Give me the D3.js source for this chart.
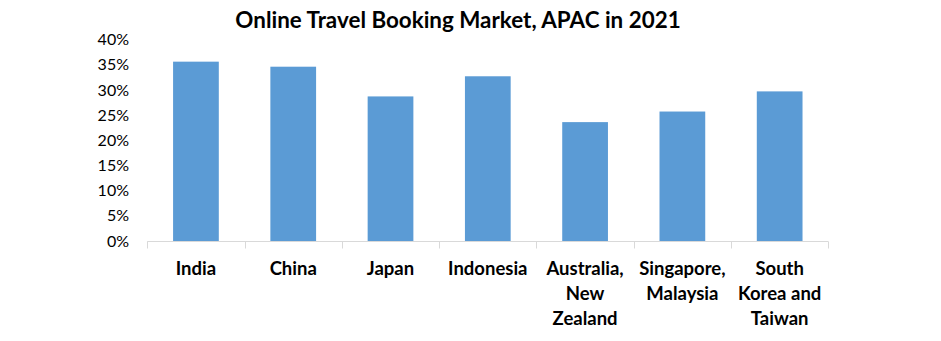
<!DOCTYPE html>
<html><head><meta charset="utf-8">
<script src="https://cdn.jsdelivr.net/npm/d3@7"></script>
<style>body{margin:0;background:#fff}svg{display:block}</style>
</head><body>
<script>
const title = "Online Travel Booking Market, APAC in 2021";
const categories = ["India", "China", "Japan", "Indonesia", "Australia, New Zealand", "Singapore, Malaysia", "South Korea and Taiwan"];
const categoryLines = [["India"], ["China"], ["Japan"], ["Indonesia"], ["Australia,", "New", "Zealand"], ["Singapore,", "Malaysia"], ["South", "Korea and", "Taiwan"]];
const shares = [35.6, 34.6, 28.7, 32.7, 23.6, 25.7, 29.7];
const yTicks = [0, 5, 10, 15, 20, 25, 30, 35, 40];

const W = 941, H = 341;
const svg = d3.select("body").append("svg").attr("width", W).attr("height", H);
const x = d3.scaleBand().domain(categories).range([147.3, 828.3]).paddingInner(0.53).paddingOuter(0.265);
const y = d3.scaleLinear().domain([0, 40]).range([241, 39.5]);

svg.append("text").attr("x", 458).attr("y", 28).attr("text-anchor", "middle")
  .attr("font-family", "Lato, sans-serif").attr("font-weight", "bold").attr("font-size", 22.4)
  .attr("fill", "#000").text(title);

// y axis labels
const ya = svg.append("g").attr("transform", "translate(129,0)")
  .call(d3.axisLeft(y).tickValues(yTicks).tickSize(0).tickPadding(0).tickFormat(d => d + "%"));
ya.select(".domain").remove();
ya.selectAll("text").attr("font-family", "Lato, sans-serif").attr("font-size", 16).attr("fill", "#000");

// bars
svg.append("g").selectAll("rect").data(shares).join("rect")
  .attr("x", (d, i) => x(categories[i])).attr("width", x.bandwidth())
  .attr("y", d => y(d)).attr("height", d => y(0) - y(d))
  .attr("fill", "#5b9bd5");

// x axis
const xa = svg.append("g").attr("transform", `translate(0,${y(0) + 0.5})`);
xa.append("line").attr("x1", 147.3).attr("x2", 828.3).attr("stroke", "#d9d9d9").attr("stroke-width", 1);
const bounds = d3.range(categories.length + 1).map(i => 147.3 + i * (828.3 - 147.3) / categories.length);
xa.selectAll("line.tk").data(bounds).join("line").attr("class", "tk")
  .attr("x1", d => Math.round(d) + 0.5).attr("x2", d => Math.round(d) + 0.5).attr("y1", 0).attr("y2", 7)
  .attr("stroke", "#d9d9d9");

const lab = svg.append("g").selectAll("text").data(categories).join("text")
  .attr("x", d => x(d) + x.bandwidth() / 2).attr("y", 275).attr("text-anchor", "middle")
  .attr("font-family", "Lato, sans-serif").attr("font-weight", "bold").attr("font-size", 18.5).attr("fill", "#000");
lab.each(function(d, i) {
  d3.select(this).selectAll("tspan").data(categoryLines[i]).join("tspan")
    .attr("x", x(d) + x.bandwidth() / 2).attr("dy", (t, j) => j === 0 ? 0 : 25).text(t => t);
});
</script>
</body></html>
